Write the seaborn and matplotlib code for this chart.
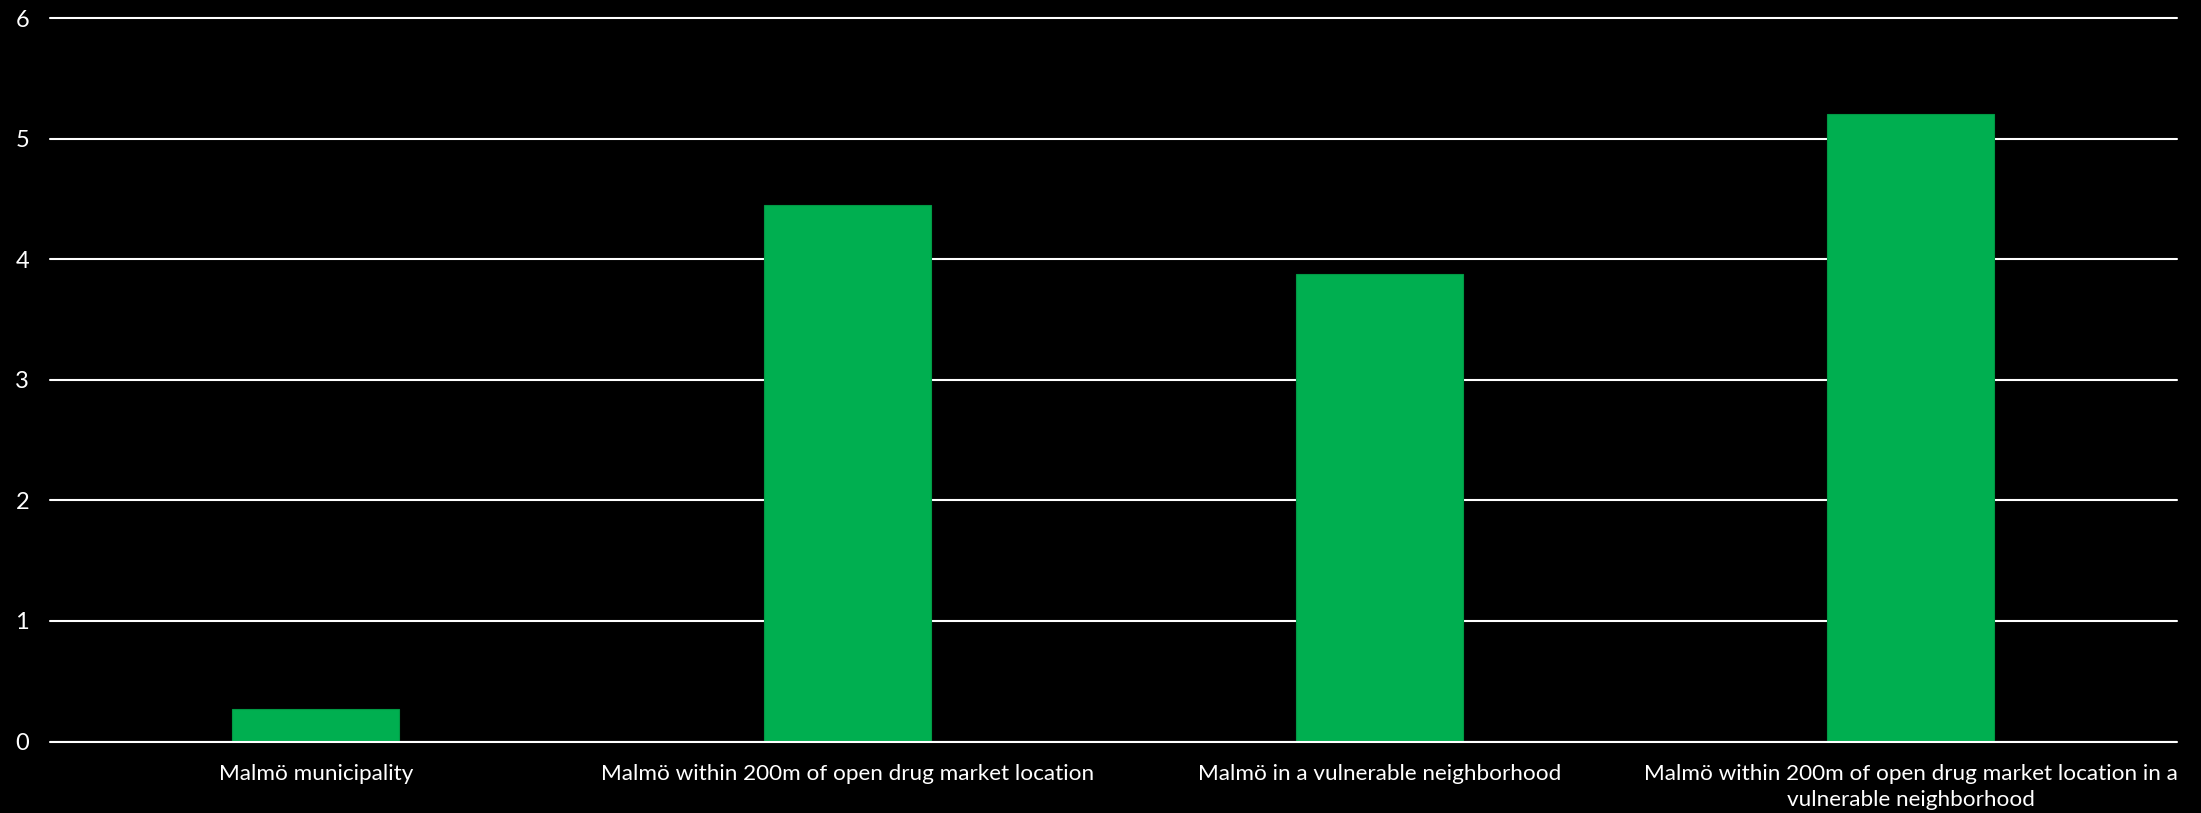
import matplotlib
matplotlib.use("Agg")
import matplotlib.pyplot as plt
import seaborn as sns
import pandas as pd

# Data
categories = [
    "Malmö municipality",
    "Malmö within 200m of open drug market location",
    "Malmö in a vulnerable neighborhood",
    "Malmö within 200m of open drug market location in a\nvulnerable neighborhood",
]
values = [0.27, 4.45, 3.88, 5.21]
y_ticks = [0, 1, 2, 3, 4, 5, 6]

sns.set_theme(style="dark")
plt.rcParams["font.family"] = ["Lato", "DejaVu Sans"]

bg = "black"
bar_color = "#00AF50"

fig = plt.figure(figsize=(22.01, 8.13), dpi=100, facecolor=bg)
ax = fig.add_axes([0.0227, 0.0879, 0.9663, 0.8896])
ax.set_facecolor(bg)

df = pd.DataFrame({"category": categories, "value": values})
sns.barplot(data=df, x="category", y="value", color=bar_color, width=0.314,
            saturation=1, edgecolor="#009944", linewidth=0.8, ax=ax, zorder=2)

ax.set_ylim(0, 6)
ax.set_xlim(-0.5, len(categories) - 0.5)
ax.set_yticks(y_ticks)
ax.set_yticklabels([str(t) for t in y_ticks])
ax.set_xlabel("")
ax.set_ylabel("")

ax.set_axisbelow(True)
ax.yaxis.grid(True, color="white", linewidth=1.5)
for gl in ax.get_ygridlines():
    gl.set_clip_on(False)
ax.xaxis.grid(False)
ax.axhline(0, color="white", linewidth=1.5, zorder=3)

for s in ax.spines.values():
    s.set_visible(False)

ax.tick_params(axis="both", length=0, colors="white", labelsize=16.2)
ax.tick_params(axis="y", labelsize=17, pad=15)
ax.tick_params(axis="x", pad=16)
for lbl in ax.get_xticklabels():
    lbl.set_horizontalalignment("center")
    lbl.set_linespacing(1.4)

fig.savefig("out.png", dpi=100, facecolor=bg)
